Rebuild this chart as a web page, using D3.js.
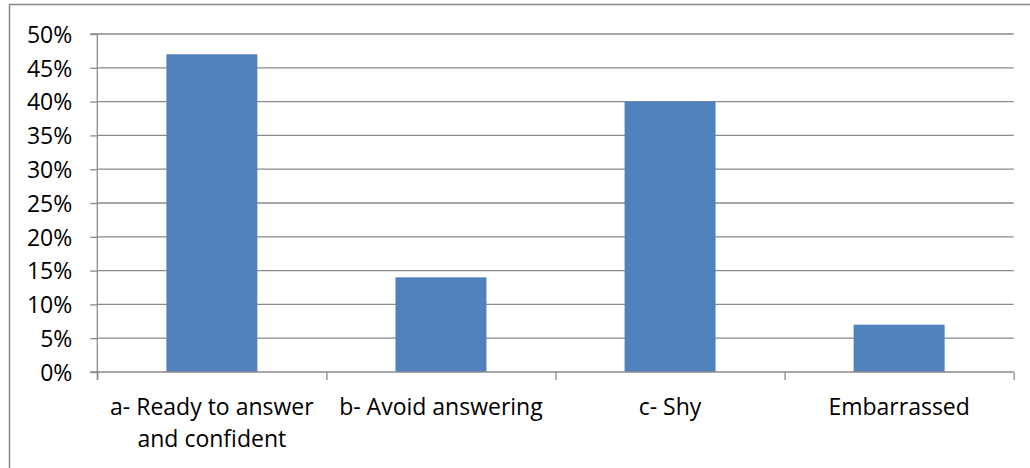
<!DOCTYPE html>
<html><head><meta charset="utf-8">
<script src="https://cdn.jsdelivr.net/npm/d3@7"></script>
<style>body{margin:0;background:#fff}svg{display:block}</style>
</head><body>
<svg id="c" width="1030" height="468"></svg>
<script>
const categories = [["a- Ready to answer","and confident"],["b- Avoid answering"],["c- Shy"],["Embarrassed"]];
const values = [47, 14, 40, 7];
const yTicks = [0,5,10,15,20,25,30,35,40,45,50];

const svg = d3.select("#c");
const FONT = "'Open Sans', Lato, sans-serif";
svg.append("rect").attr("x",9.5).attr("y",4.5).attr("width",1100).attr("height",600)
  .attr("fill","#fff").attr("stroke","#888").attr("stroke-width",1.5);

const x0 = 97.3, x1 = 1013.7, yTop = 34, yBot = 372;
const x = d3.scaleBand().domain(d3.range(categories.length)).range([x0,x1]).padding(0);
const y = d3.scaleLinear().domain([0,50]).range([yBot,yTop]);

// gridlines
svg.append("g").selectAll("line").data(yTicks.filter(d=>d>0)).join("line")
  .attr("x1",x0).attr("x2",x1).attr("y1",d=>y(d)).attr("y2",d=>y(d))
  .attr("stroke","#8a8a8a").attr("stroke-width",1.3);

// bars
const bw = x.bandwidth()*0.397;
svg.append("g").selectAll("rect").data(values).join("rect")
  .attr("x",(d,i)=>x(i)+(x.bandwidth()-bw)/2).attr("width",bw)
  .attr("y",d=>y(d)).attr("height",d=>y(0)-y(d)).attr("fill","#4F81BD");

// y axis
const ya = d3.axisLeft(y).tickValues(yTicks).tickFormat(d=>d+"%").tickSize(7).tickPadding(18);
const gy = svg.append("g").attr("transform",`translate(${x0},0)`).call(ya);
gy.select(".domain").attr("stroke","#8a8a8a").attr("stroke-width",1.3).attr("d",`M-7,${yTop}H0V${yBot+8}`);
gy.selectAll(".tick line").attr("stroke","#8a8a8a").attr("stroke-width",1.3);
gy.selectAll(".tick text").attr("x",-25).attr("font-family",FONT).attr("font-size",23).attr("fill","#000").attr("dy","0.36em");

// x axis
const xs = d3.scaleLinear().domain([0,categories.length]).range([x0,x1]);
const gx = svg.append("g").attr("transform",`translate(0,${yBot})`)
  .call(d3.axisBottom(xs).tickValues(d3.range(categories.length+1)).tickSize(8).tickFormat(""));
gx.select(".domain").attr("stroke","#8a8a8a").attr("stroke-width",1.3).attr("d",`M${x0-7},0H${x1}`);
gx.selectAll(".tick line").attr("stroke","#8a8a8a").attr("stroke-width",1.3);

const lab = svg.append("g").selectAll("text").data(categories).join("text")
  .attr("font-family",FONT).attr("font-size",23).attr("text-anchor","middle").attr("fill","#000");
lab.selectAll("tspan").data((d,i)=>d.map(t=>({t,i}))).join("tspan")
  .attr("x",d=>x(d.i)+x.bandwidth()/2).attr("y",(d,j)=>415+j*32).text(d=>d.t);
</script>
</body></html>
